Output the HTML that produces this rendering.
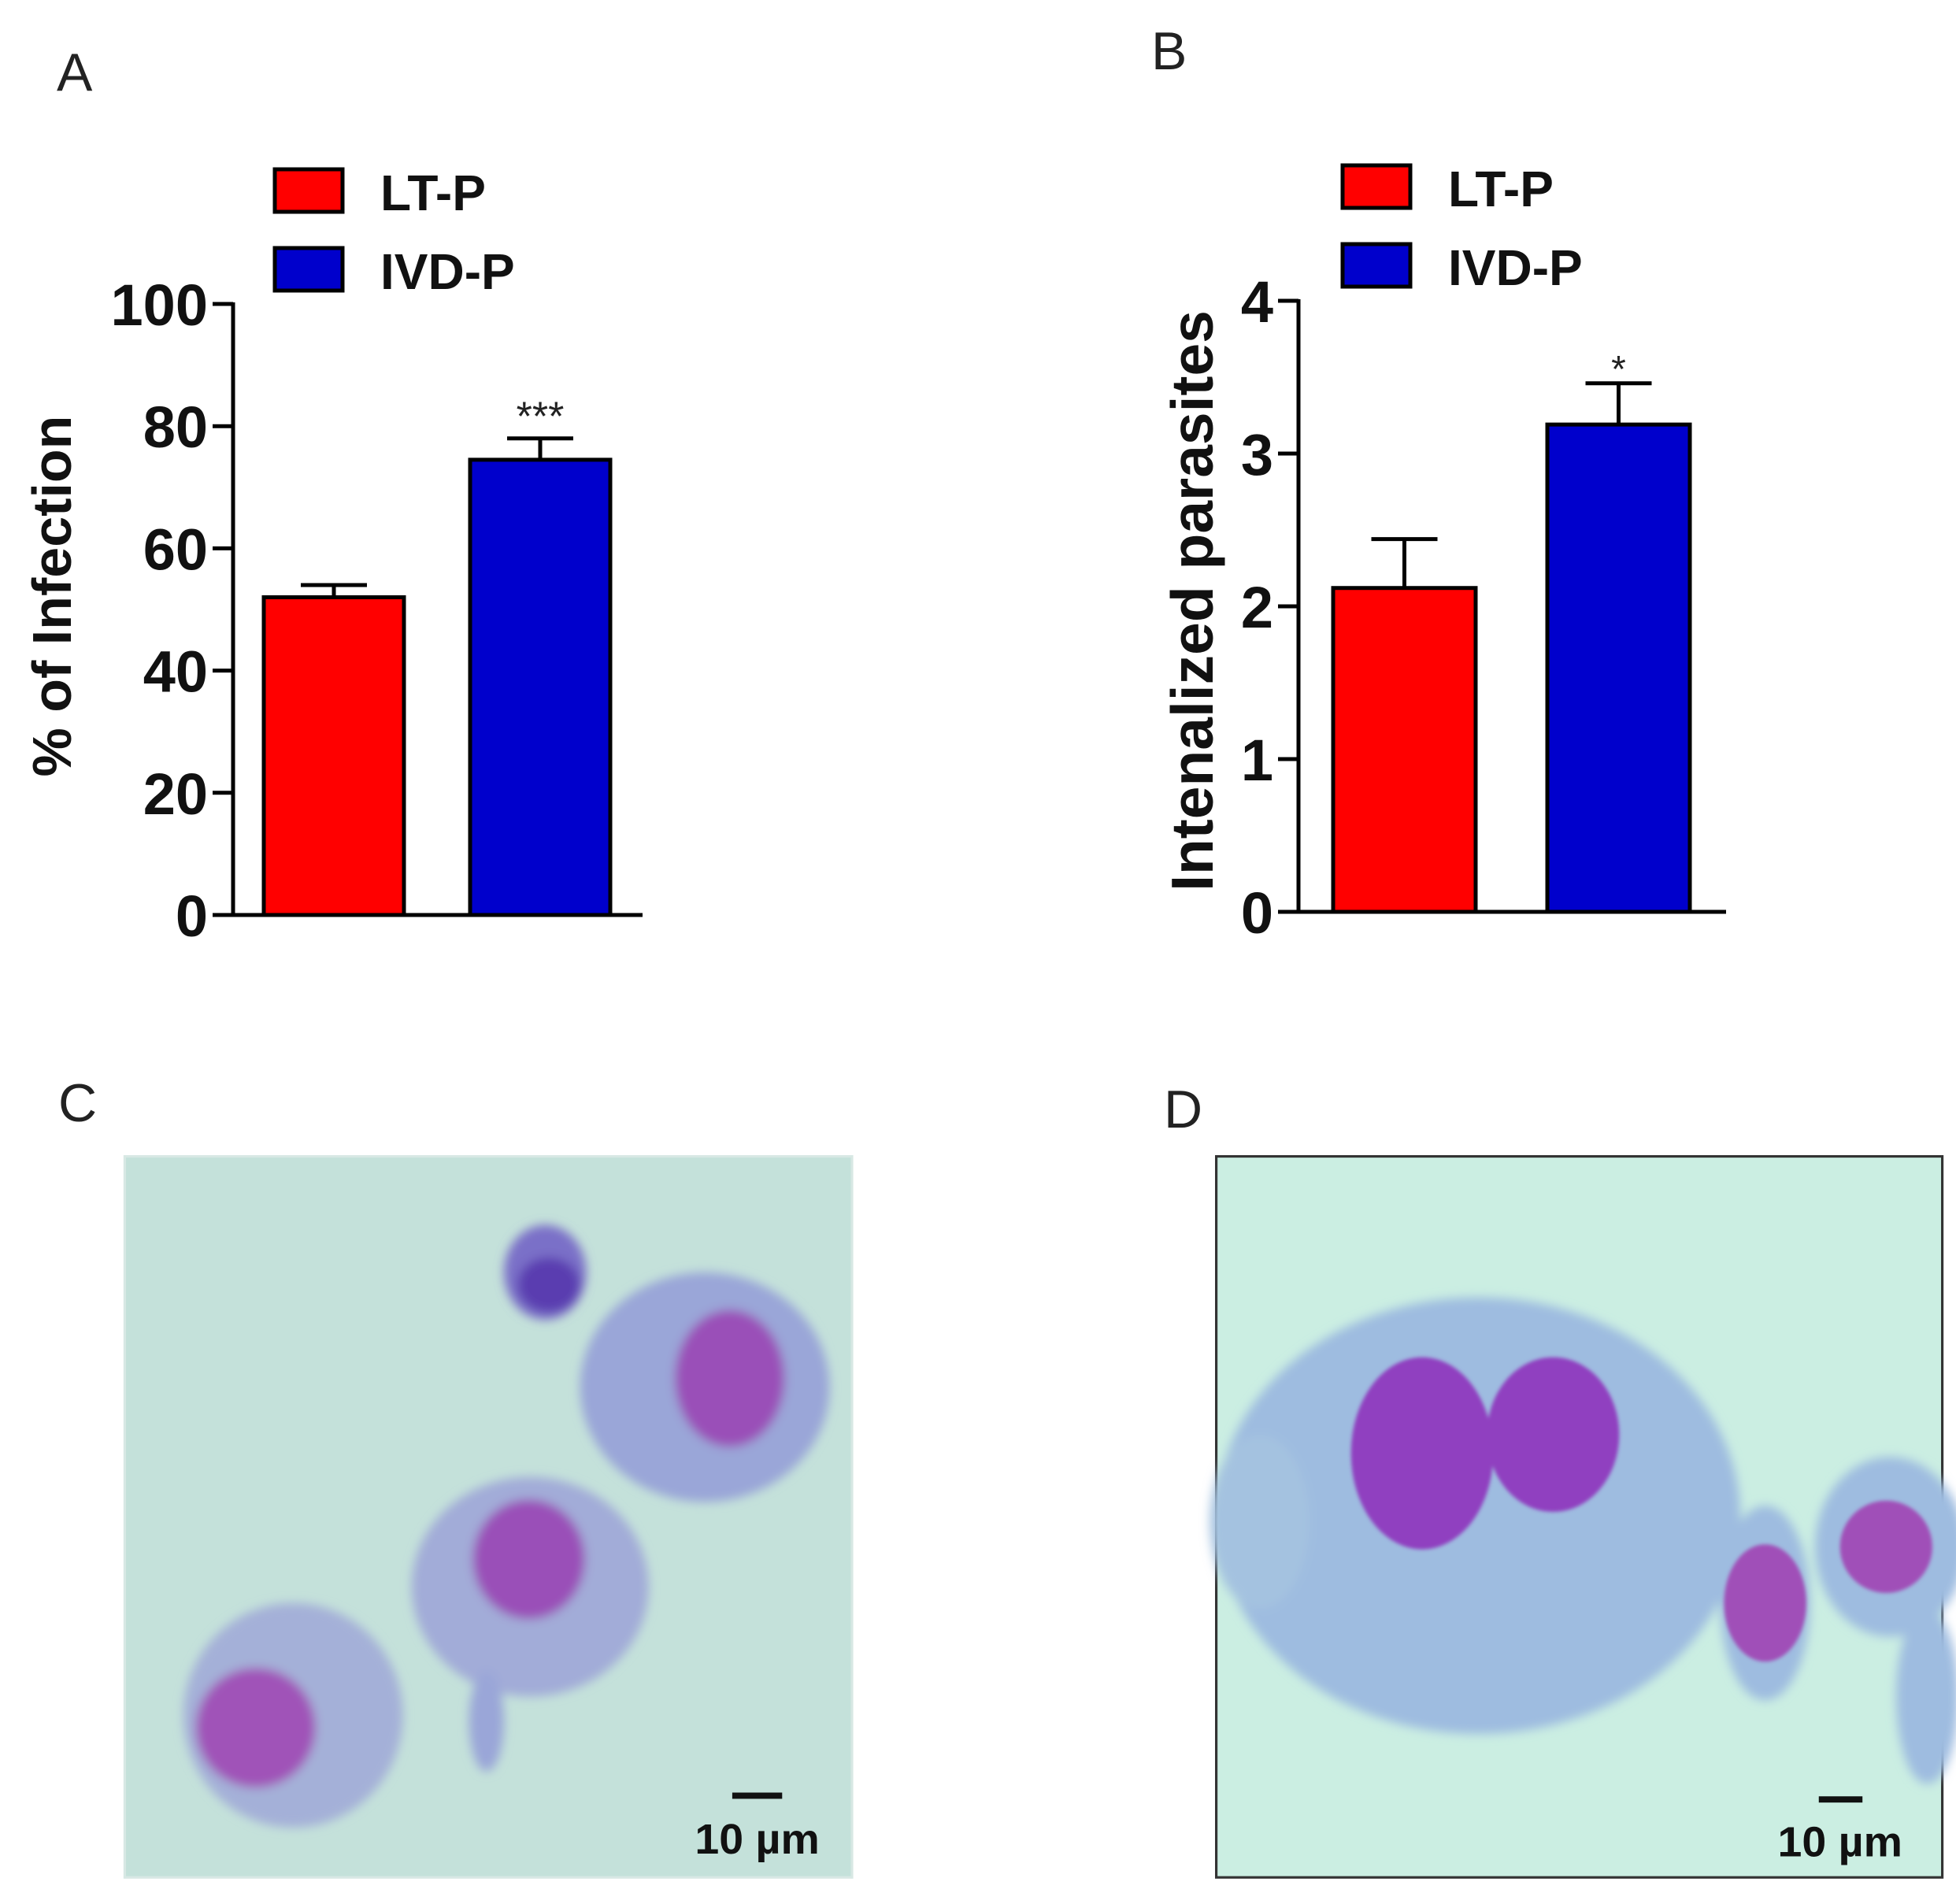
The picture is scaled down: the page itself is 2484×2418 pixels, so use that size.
<!DOCTYPE html>
<html><head><meta charset="utf-8"><style>
html,body{margin:0;padding:0;background:#fff;}
svg{display:block;font-family:"Liberation Sans",sans-serif;}
</style></head><body>
<svg id="fig" width="2484" height="2418" viewBox="0 0 2484 2418" xmlns="http://www.w3.org/2000/svg">
<defs>
<filter id="soft" x="-20%" y="-20%" width="140%" height="140%"><feGaussianBlur stdDeviation="4"/></filter>
<filter id="soft2"><feGaussianBlur stdDeviation="1.5"/></filter>
</defs>
<text x="72" y="115" font-size="68" fill="#222">A</text>
<text x="1462" y="88" font-size="68" fill="#222">B</text>
<g id="chartA"></g>
<g id="chartB"></g>

<text x="74" y="1424" font-size="68" fill="#222">C</text>
<text x="1478" y="1432" font-size="68" fill="#222">D</text>

<g transform="scale(1.5842)">
<rect x="100" y="927" width="583" height="578" fill="#c4e1da" stroke="#d8e8e4" stroke-width="2"/>
<g filter="url(#soft)">
<ellipse cx="437" cy="1020" rx="33" ry="38" fill="#7a70c8"/>
<ellipse cx="440" cy="1030" rx="25" ry="22" fill="#5a3cb0"/>
<ellipse cx="565" cy="1112" rx="100" ry="92" fill="#9aa6d8"/>
<ellipse cx="585" cy="1105" rx="44" ry="55" fill="#9a4fb8"/>
<ellipse cx="425" cy="1272" rx="95" ry="88" fill="#a2acd8"/>
<ellipse cx="424" cy="1250" rx="45" ry="48" fill="#9a4fb8"/>
<ellipse cx="235" cy="1375" rx="88" ry="90" fill="#a4b0d8"/>
<ellipse cx="205" cy="1385" rx="48" ry="48" fill="#a052b8"/>
<ellipse cx="390" cy="1380" rx="14" ry="40" fill="#9aa6d8"/>
</g>
<rect x="587" y="1437" width="40" height="5" fill="#111"/>
<text x="607" y="1486" font-size="34" font-weight="bold" text-anchor="middle" fill="#111" textLength="100" lengthAdjust="spacingAndGlyphs">10 µm</text>
</g>

<g transform="scale(1.5842)">
<rect x="975" y="927" width="582" height="578" fill="#cbeee2" stroke="#333" stroke-width="2"/>
<g filter="url(#soft)">
<ellipse cx="1185" cy="1215" rx="210" ry="175" fill="#9ebce0"/>
<ellipse cx="1010" cy="1220" rx="40" ry="70" fill="#a4c2e0"/>
<ellipse cx="1415" cy="1285" rx="36" ry="78" fill="#9ebce0"/>
<ellipse cx="1515" cy="1240" rx="60" ry="72" fill="#9ebce0"/>
<ellipse cx="1545" cy="1360" rx="25" ry="70" fill="#9ebce0"/>
</g>
<g filter="url(#soft2)">
<ellipse cx="1140" cy="1165" rx="57" ry="77" fill="#9040c0"/>
<ellipse cx="1245" cy="1150" rx="53" ry="62" fill="#9040c0"/>
<ellipse cx="1415" cy="1285" rx="33" ry="47" fill="#a050b8"/>
<ellipse cx="1512" cy="1240" rx="37" ry="37" fill="#a050b8"/>
</g>
<rect x="1458" y="1440" width="35" height="5" fill="#111"/>
<text x="1475" y="1488" font-size="34" font-weight="bold" text-anchor="middle" fill="#111" textLength="100" lengthAdjust="spacingAndGlyphs">10 µm</text>
</g>
</svg>
<script>
const NS="http://www.w3.org/2000/svg";
const categoriesA=["LT-P","IVD-P"];
const valuesA=[52,74.5];
const errorsA=[2,3.5];
const ticksA=[0,20,40,60,80,100];
const sigA=["","***"];
const categoriesB=["LT-P","IVD-P"];
const valuesB=[2.12,3.19];
const errorsB=[0.32,0.27];
const ticksB=[0,1,2,3,4];
const sigB=["","*"];
const colors=["#ff0000","#0000cc"];

function mk(parent,tag,attrs){const e=document.createElementNS(NS,tag);for(const k in attrs)e.setAttribute(k,attrs[k]);parent.appendChild(e);return e;}

function drawChart(g,cfg){
  const y=v=>cfg.y0-(v-cfg.min)/(cfg.max-cfg.min)*(cfg.y0-cfg.y1);
  cfg.vals.forEach((v,i)=>{
    const x0=cfg.barX[i];
    const top=y(v+cfg.err[i]);
    const el=mk(g,'line',{x1:x0+cfg.bw/2,x2:x0+cfg.bw/2,y1:y(v),y2:top,stroke:'#000','stroke-width':5});
    
    
    const cap=mk(g,'line',{x1:x0+cfg.bw/2-42,x2:x0+cfg.bw/2+42,y1:top,y2:top,stroke:'#000','stroke-width':5});
    
    
    const r=mk(g,'rect',{x:x0,y:y(v),width:cfg.bw,height:cfg.y0-y(v),fill:colors[i],stroke:'#000','stroke-width':5});
    
    
    if(cfg.sig[i]){
      const t=mk(g,'text',{x:x0+cfg.bw/2,y:top-cfg.sigOff,'font-size':cfg.sigSize,'text-anchor':'middle',fill:'#222'});
      t.textContent=cfg.sig[i];
      
      
    }
  });
  const ya=mk(g,'line',{x1:cfg.ax,x2:cfg.ax,y1:cfg.y1-2,y2:cfg.y0+2,stroke:'#000','stroke-width':5});
  
  
  const xa=mk(g,'line',{x1:cfg.ax-26,x2:cfg.xEnd,y1:cfg.y0,y2:cfg.y0,stroke:'#000','stroke-width':5});
  
  
  cfg.ticks.forEach(t=>{
    const tk=mk(g,'line',{x1:cfg.ax-26,x2:cfg.ax,y1:y(t),y2:y(t),stroke:'#000','stroke-width':5});
    
    
    const tl=mk(g,'text',{x:cfg.ax-32,y:y(t)+27,'font-size':74,'font-weight':'bold','text-anchor':'end',fill:'#111'});
    tl.textContent=t;
    
    
  });
  const tt=mk(g,'text',{x:0,y:0,'font-size':cfg.titleSize,'font-weight':'bold','text-anchor':'middle',fill:'#111',transform:`translate(${cfg.titleX},${cfg.titleY}) rotate(-90)`});
  tt.textContent=cfg.title;
  
  
  cfg.cats.forEach((c,i)=>{
    const ly=cfg.legY+i*100;
    const b=mk(g,'rect',{x:cfg.legX,y:ly,width:86,height:54,fill:colors[i],stroke:'#000','stroke-width':5});
    
    
    const t=mk(g,'text',{x:cfg.legX+134,y:ly+52,'font-size':64,'font-weight':'bold',fill:'#111'});
    t.textContent=c;
    
    
  });
}
drawChart(document.getElementById('chartA'),{cats:categoriesA,vals:valuesA,err:errorsA,ticks:ticksA,sig:sigA,min:0,max:100,
  y0:1162,y1:386,ax:296,xEnd:816,barX:[335,597],bw:178,title:"% of Infection",titleSize:70,titleX:90,titleY:757,legX:349,legY:215,sigOff:10,sigSize:52});
drawChart(document.getElementById('chartB'),{cats:categoriesB,vals:valuesB,err:errorsB,ticks:ticksB,sig:sigB,min:0,max:4,
  y0:1158,y1:382,ax:1649,xEnd:2192,barX:[1693,1965],bw:181,title:"Intenalized parasites",titleSize:75,titleX:1540,titleY:763,legX:1705,legY:210,sigOff:2,sigSize:48});
</script>
</body></html>
